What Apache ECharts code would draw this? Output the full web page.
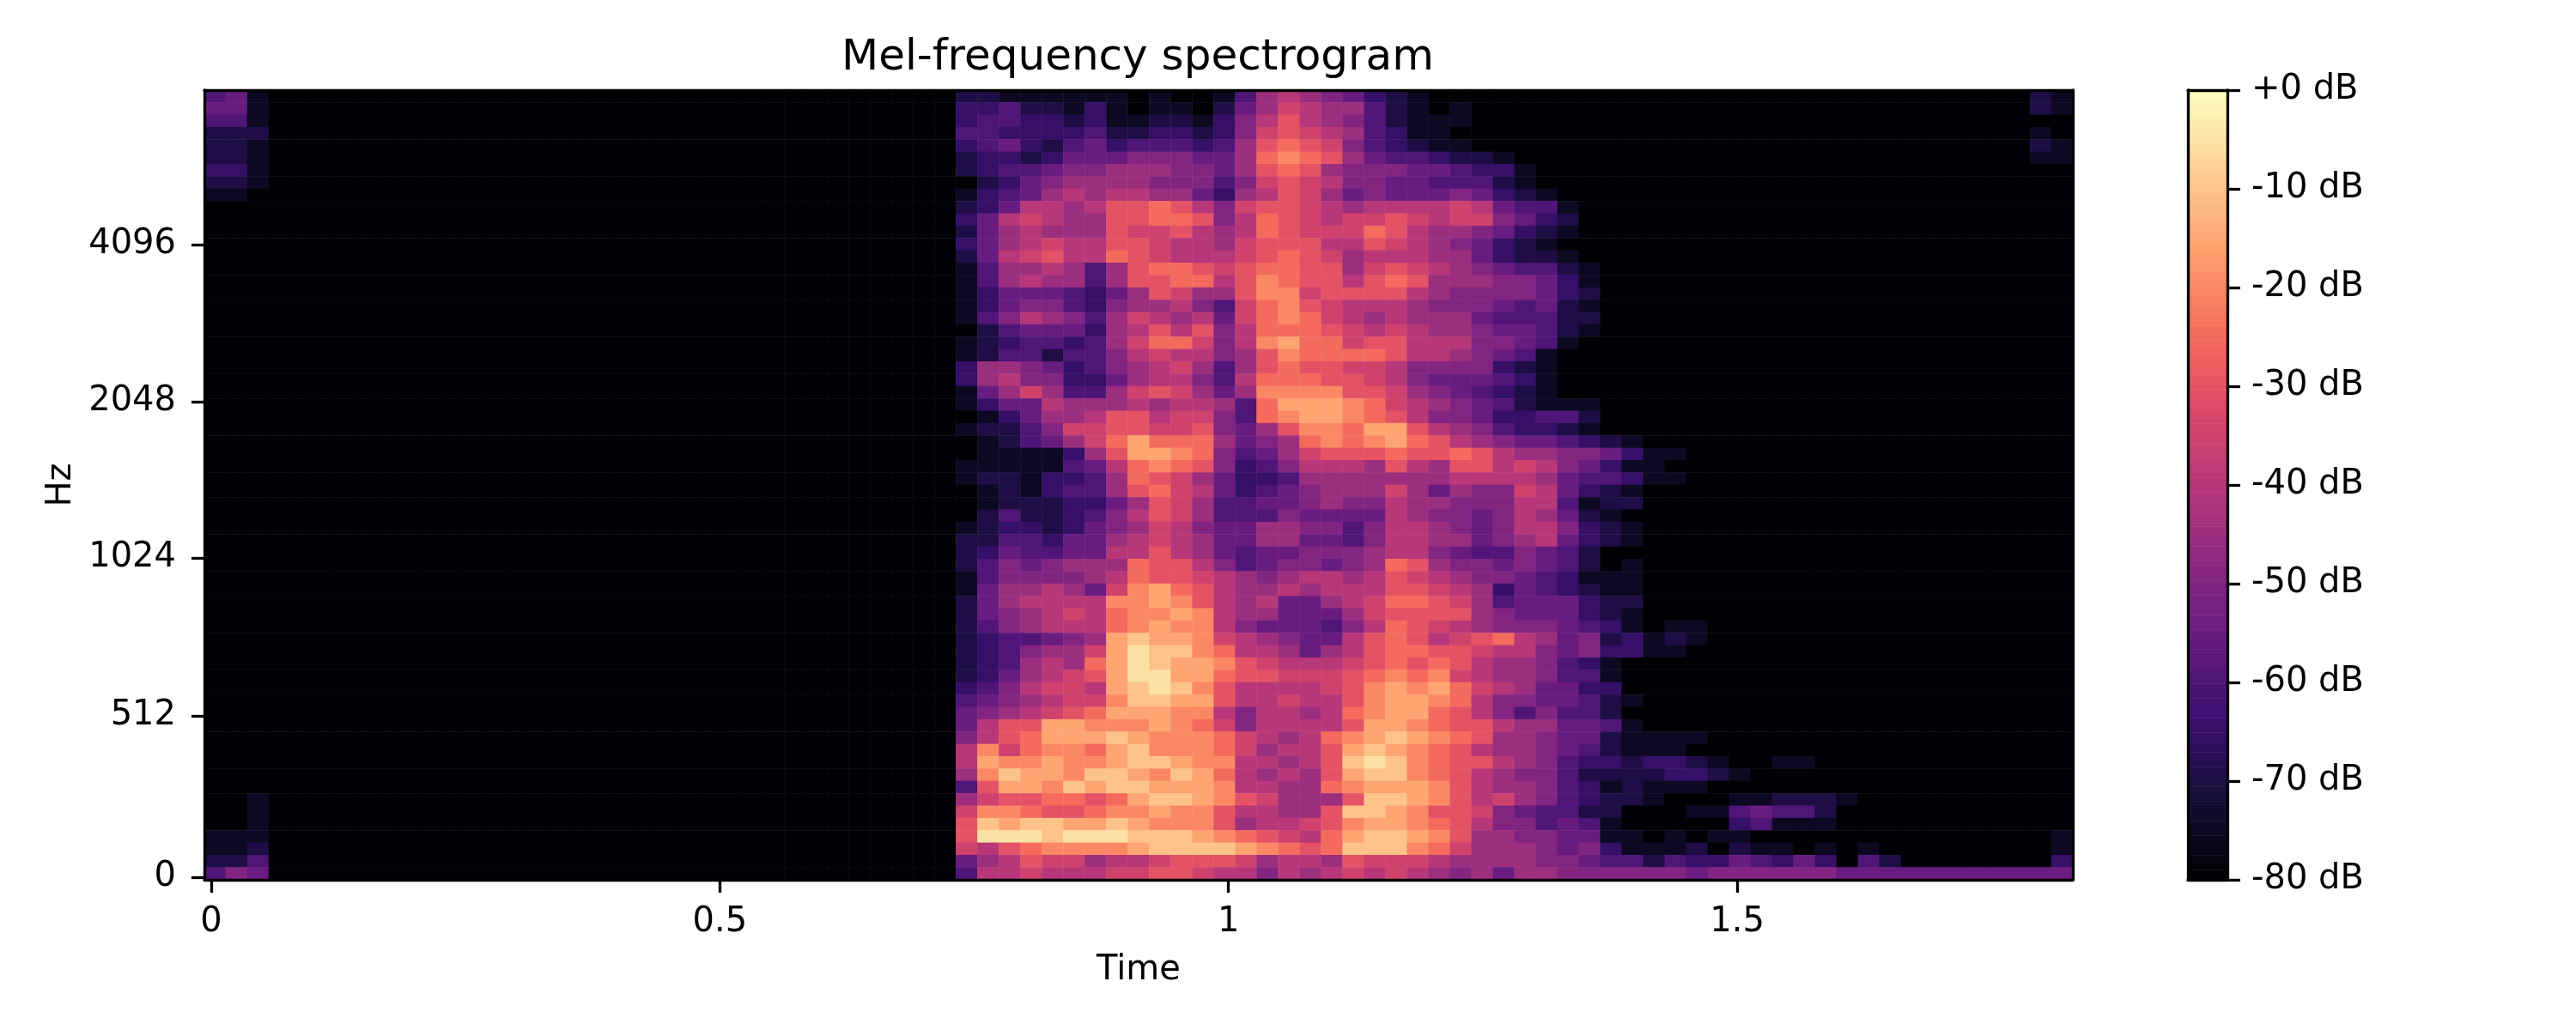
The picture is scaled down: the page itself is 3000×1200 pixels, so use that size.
<!DOCTYPE html>
<html>
<head>
<meta charset="utf-8">
<title>Mel-frequency spectrogram</title>
<script src="https://cdn.jsdelivr.net/npm/echarts@6/dist/echarts.min.js"></script>
<style>
  html, body { margin: 0; background: #fff; }
  #chart { width: 3000px; height: 1200px; }
</style>
</head>
<body>
<div id="chart"></div>
<script>
// x ticks are in seconds, y ticks are in rows counted up from the bottom edge
var timeTicks = [0, 0.5, 1, 1.5];
var hzLabels = ['0', '512', '1024', '2048', '4096'];
var hzRows = [0.21, 13.29, 26.09, 38.75, 51.48];
var dbTicks = [-80, -70, -60, -50, -40, -30, -20, -10, 0];

var colCount = 87;
var rowCount = 64;

// one char per cell: dB = -80 + 5 * level (0-9, a-g)
// top row first, first char is column 35 (where the speech starts)
var speechRows = [
  "2211111101001478765321",
  "334221310110257987742101",
  "344332311221368a87642111",
  "443333422332369a9874311",
  "34532453444347aba9643211",
  "23323555666557bcba75443221",
  "23445667776657aba7666554331",
  "023567777666469a98665544421",
  "134578788775378a975655565321",
  "2358878aaba869aa9878888985441",
  "3589877aabba68ba9899a98996532",
  "2578777a99a878ba999ba87765321",
  "3578988aa98879aaa88a98765321",
  "2589a88ba98889aba978887753221",
  "14778747abba9abbaa79a987654421",
  "14787747aabb8acbaa8aba77766531",
  "135554357a977acc9aaaa876666532",
  "13566436778649bca9888766654521",
  "14687647987859bcb9878777544422",
  "024555378a8a68bbba989877655421",
  "123443479bb968cdbb9aa88866541",
  "12442446898867acbbbba8876541",
  "37765346789747abaa9986666321",
  "37866335788648bbbaa986555431",
  "157974479a9757ccccaa97654321",
  "13558777878874bdddcb9876542111",
  "0135778aa89964bcddcba866533442",
  "1224699aa99a657accbdda87643321",
  "0124579bdbbb7567bcbcdba876554321",
  "0111137addcb64579aaabaaba877665311",
  "11111458bcba63468887a87aa89865311",
  "12213347ba975334777777788887544311",
  "01213447ab9853456777975766985321",
  "012223357a9744556766877666884122",
  "024223468a974446555587665687521",
  "12332356798655776646887656886321",
  "22443557898755775546887756785321",
  "235445588a87545566678865446542",
  "24656777baa864566567ba7665654201",
  "14666678baa987678878a98766543111",
  "15778759cdba87787888aa9873543211",
  "2578888ccdca87855789bba974555322",
  "2567898bccdc87755579aaaa7655532100",
  "2467888bcdcc86555468ba9876665431011",
  "2344567deddc9876558aba89ab875623121",
  "2346779dfeecb887578abbaa9886563311",
  "234787bdfeddca98889ababa877643100",
  "235789adffddbaa999abcbc987764410000",
  "3468998defeca88889acdcdb9875533",
  "4567899ceedda88988acddcb86655421",
  "56789abdddcc868878bcddba8646442",
  "58aaddcccdcb968888addcbaa8775541",
  "68abdddedcccb9878bcdedcba7765521111",
  "8c9bccbdecccb9788adedcba8776542111000",
  "8dccdccdeedcc8878aefecbaa8764332332100110",
  "7ceddceedcedb8787adeecba876642222332100",
  "4addcedeedddc8877bcdddca87764312111000000",
  "79aabbabdeedca9777aeedca897643221000112221",
  "9ccbaabccdcca8877aeedcaa96544220001145442",
  "aedeeddedccca7889acddcba86645410000034111",
  "afffefffeeedcba98bdeedca77665511010110000",
  "98abccccdeeeedcbabeeecb977765631112021101010",
  "578a997889aaa97887a9998777766544243354353042",
  "488988899aa988687898987675776666665666666555555555555"
];
// the small patches near the plot corners, same coding
var startTopRows = ["451", "551", "441", "222", "221", "221", "331", "221", "110"];
var startBottomRows = ["001", "001", "001", "111", "112", "224", "465"];
var endTopRows = ["21", "21", "00", "10", "21", "11", "00"];
var endBottomRows = ["1", "1", "3"];

var magma = ['#000004', '#140e36', '#3b0f70', '#641a80', '#8c2981', '#b73779', '#de4968', '#f7705c', '#fe9f6d', '#fecf92', '#fcfdbf'];

var levels = [];
for (var r = 0; r < rowCount; r++) {
  levels.push(new Array(colCount).fill(0));
}

function stamp(rows, firstRow, firstCol) {
  rows.forEach(function (line, r) {
    for (var c = 0; c < line.length; c++) {
      if (firstCol + c < colCount) {
        levels[firstRow + r][firstCol + c] = parseInt(line[c], 36);
      }
    }
  });
}
stamp(speechRows, 0, 35);
stamp(startTopRows, 0, 0);
stamp(startBottomRows, 57, 0);
stamp(endTopRows, 0, 85);
stamp(endBottomRows, 60, 86);

var cells = [];
levels.forEach(function (line, r) {
  line.forEach(function (level, c) {
    cells.push([c, r, -80 + 5 * level]);
  });
});

var colNames = [];
for (var i = 0; i < colCount; i++) colNames.push(i);
var rowNames = [];
for (var j = 0; j < rowCount; j++) rowNames.push(j);

// colorbar strip
var barLevels = [];
var barCells = [];
for (var k = 0; k <= 160; k++) {
  barLevels.push(k);
  barCells.push([0, k, -80 + k * 0.5]);
}

var FONT = 'DejaVu Sans';
var LW = 3.3;
var spine = { show: true, onZero: false, lineStyle: { color: '#000', width: LW } };
var tick = { show: true, inside: false, length: 15, lineStyle: { color: '#000', width: LW } };
var labelBase = { show: true, color: '#000', fontFamily: FONT, fontSize: 40 };

var mychart = echarts.init(document.getElementById('chart'), null, { width: 3000, height: 1200 });
mychart.setOption({
  animation: false,
  backgroundColor: '#fff',
  title: {
    text: 'Mel-frequency spectrogram',
    left: 1320,
    top: 38,
    textAlign: 'center',
    textStyle: { color: '#000', fontFamily: FONT, fontSize: 50, fontWeight: 'normal' }
  },
  grid: [
    { left: 238, top: 105, width: 2176, height: 920 },
    { left: 2548, top: 105, width: 46, height: 920 }
  ],
  visualMap: {
    show: false,
    type: 'continuous',
    min: -80,
    max: 0,
    seriesIndex: [0, 1],
    inRange: { color: magma }
  },
  xAxis: [
    { type: 'category', gridIndex: 0, position: 'top', data: colNames, z: 5,
      axisLine: spine, axisTick: { show: false }, axisLabel: { show: false } },
    { type: 'value', gridIndex: 0, position: 'bottom', min: -0.00675, max: 1.83, z: 5,
      axisLine: spine, splitLine: { show: false },
      axisTick: Object.assign({ customValues: timeTicks }, tick),
      axisLabel: Object.assign({ customValues: timeTicks, margin: 30 }, labelBase),
      name: 'Time', nameLocation: 'middle', nameGap: 86,
      nameTextStyle: { color: '#000', fontFamily: FONT, fontSize: 40 } },
    { type: 'category', gridIndex: 1, position: 'bottom', data: ['db'], z: 5,
      axisLine: spine, axisTick: { show: false }, axisLabel: { show: false } },
    { type: 'category', gridIndex: 1, position: 'top', data: ['db'], z: 5,
      axisLine: spine, axisTick: { show: false }, axisLabel: { show: false } }
  ],
  yAxis: [
    { type: 'category', gridIndex: 0, position: 'right', inverse: true, data: rowNames, z: 5,
      axisLine: spine, axisTick: { show: false }, axisLabel: { show: false } },
    { type: 'value', gridIndex: 0, position: 'left', min: 0, max: rowCount, z: 5,
      axisLine: spine, splitLine: { show: false },
      axisTick: Object.assign({ customValues: hzRows }, tick),
      axisLabel: Object.assign({
        customValues: hzRows,
        margin: 33,
        padding: [10, 0, 0, 0],
        formatter: function (v) { return hzLabels[hzRows.indexOf(v)]; }
      }, labelBase),
      name: 'Hz', nameLocation: 'middle', nameGap: 146,
      nameTextStyle: { color: '#000', fontFamily: FONT, fontSize: 40 } },
    { type: 'category', gridIndex: 1, position: 'left', data: barLevels, z: 5,
      axisLine: spine, axisTick: { show: false }, axisLabel: { show: false } },
    { type: 'value', gridIndex: 1, position: 'right', min: -80, max: 0, interval: 10, z: 5,
      axisLine: spine, splitLine: { show: false },
      axisTick: tick,
      axisLabel: Object.assign({
        margin: 28,
        padding: [10, 0, 0, 0],
        formatter: function (v) { return (v === 0 ? '+0' : v) + ' dB'; }
      }, labelBase) }
  ],
  series: [
    { name: 'mel', type: 'heatmap', xAxisIndex: 0, yAxisIndex: 0, data: cells, progressive: 0 },
    { name: 'colorbar', type: 'heatmap', xAxisIndex: 2, yAxisIndex: 2, data: barCells, progressive: 0 }
  ]
});
</script>
</body>
</html>
